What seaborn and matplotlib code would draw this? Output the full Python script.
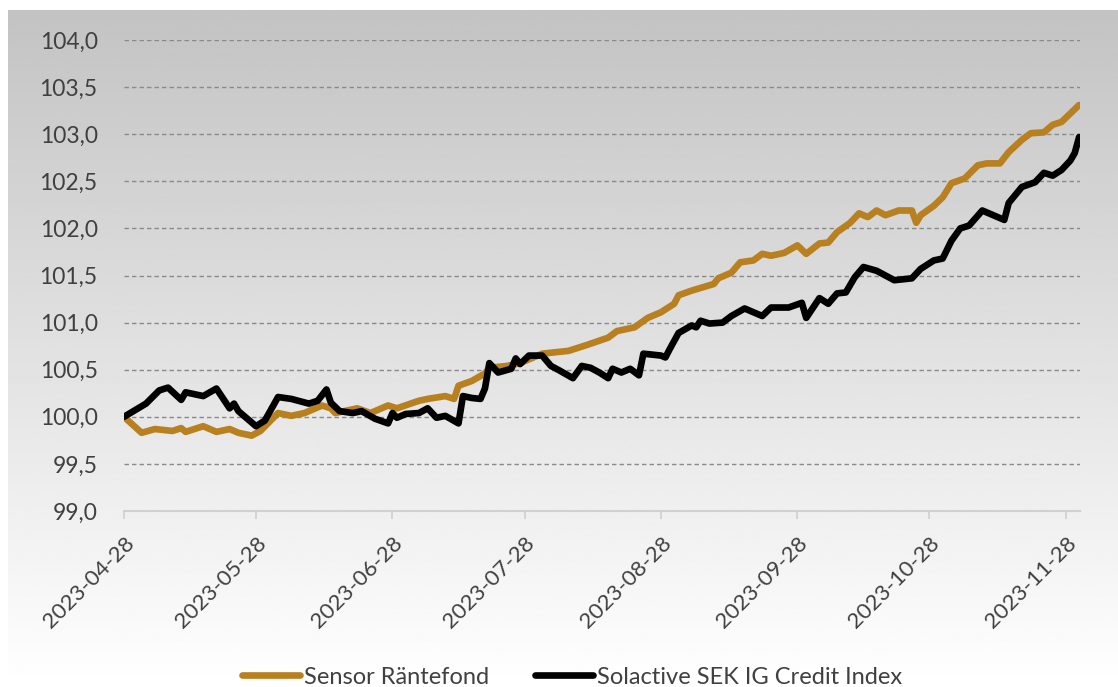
import numpy as np
import pandas as pd
import matplotlib
matplotlib.use("Agg")
import matplotlib.pyplot as plt
from matplotlib.lines import Line2D
import seaborn as sns

# Fund performance, indexed to 100 on 2023-04-28
sensor_dates = [
    "2023-04-28", "2023-05-02", "2023-05-05", "2023-05-09", "2023-05-11", "2023-05-12",
    "2023-05-16", "2023-05-19", "2023-05-22", "2023-05-24", "2023-05-27", "2023-05-29",
    "2023-06-02", "2023-06-05", "2023-06-08", "2023-06-12", "2023-06-14", "2023-06-15",
    "2023-06-20", "2023-06-23", "2023-06-27", "2023-06-29", "2023-07-04", "2023-07-06",
    "2023-07-10", "2023-07-12", "2023-07-13", "2023-07-16", "2023-07-19", "2023-07-20",
    "2023-07-24", "2023-07-27", "2023-07-30", "2023-08-01", "2023-08-07", "2023-08-11",
    "2023-08-16", "2023-08-18", "2023-08-22", "2023-08-25", "2023-08-28", "2023-08-31",
    "2023-09-01", "2023-09-04", "2023-09-09", "2023-09-10", "2023-09-13", "2023-09-15",
    "2023-09-18", "2023-09-20", "2023-09-22", "2023-09-25", "2023-09-28", "2023-09-30",
    "2023-10-03", "2023-10-05", "2023-10-07", "2023-10-10", "2023-10-12", "2023-10-14",
    "2023-10-16", "2023-10-18", "2023-10-21", "2023-10-24", "2023-10-25", "2023-10-26",
    "2023-10-29", "2023-10-31", "2023-11-02", "2023-11-05", "2023-11-08", "2023-11-10",
    "2023-11-13", "2023-11-15", "2023-11-18", "2023-11-20", "2023-11-23", "2023-11-25",
    "2023-11-27", "2023-11-29", "2023-12-01",
]
sensor_values = [
    100.00, 99.83, 99.87, 99.85, 99.88, 99.84,
    99.90, 99.84, 99.87, 99.83, 99.80, 99.85,
    100.04, 100.01, 100.04, 100.12, 100.09, 100.04,
    100.09, 100.04, 100.12, 100.09, 100.17, 100.19,
    100.22, 100.19, 100.33, 100.38, 100.46, 100.52,
    100.54, 100.57, 100.63, 100.67, 100.70, 100.76,
    100.84, 100.91, 100.95, 101.05, 101.11, 101.20,
    101.29, 101.34, 101.41, 101.47, 101.53, 101.64,
    101.66, 101.73, 101.71, 101.74, 101.82, 101.73,
    101.84, 101.85, 101.96, 102.06, 102.16, 102.12,
    102.19, 102.14, 102.19, 102.19, 102.06, 102.14,
    102.24, 102.33, 102.48, 102.53, 102.67, 102.69,
    102.69, 102.81, 102.94, 103.01, 103.02, 103.10,
    103.13, 103.22, 103.31,
]

index_dates = [
    "2023-04-28", "2023-05-03", "2023-05-06", "2023-05-08", "2023-05-11", "2023-05-12",
    "2023-05-16", "2023-05-19", "2023-05-22", "2023-05-23", "2023-05-24", "2023-05-27",
    "2023-05-28", "2023-05-30", "2023-06-02", "2023-06-05", "2023-06-09", "2023-06-11",
    "2023-06-13", "2023-06-14", "2023-06-16", "2023-06-19", "2023-06-21", "2023-06-24",
    "2023-06-27", "2023-06-28", "2023-06-29", "2023-07-01", "2023-07-04", "2023-07-06",
    "2023-07-08", "2023-07-10", "2023-07-13", "2023-07-14", "2023-07-16", "2023-07-18",
    "2023-07-19", "2023-07-20", "2023-07-22", "2023-07-25", "2023-07-26", "2023-07-27",
    "2023-07-29", "2023-08-01", "2023-08-03", "2023-08-05", "2023-08-08", "2023-08-10",
    "2023-08-12", "2023-08-14", "2023-08-16", "2023-08-17", "2023-08-19", "2023-08-21",
    "2023-08-23", "2023-08-24", "2023-08-28", "2023-08-29", "2023-08-30", "2023-09-01",
    "2023-09-04", "2023-09-05", "2023-09-06", "2023-09-08", "2023-09-11", "2023-09-13",
    "2023-09-16", "2023-09-18", "2023-09-20", "2023-09-22", "2023-09-26", "2023-09-29",
    "2023-09-30", "2023-10-03", "2023-10-05", "2023-10-07", "2023-10-09", "2023-10-11",
    "2023-10-13", "2023-10-16", "2023-10-20", "2023-10-24", "2023-10-26", "2023-10-29",
    "2023-10-31", "2023-11-02", "2023-11-04", "2023-11-06", "2023-11-09", "2023-11-10",
    "2023-11-14", "2023-11-15", "2023-11-18", "2023-11-21", "2023-11-23", "2023-11-25",
    "2023-11-27", "2023-11-29", "2023-11-30", "2023-12-01",
]
index_values = [
    100.00, 100.14, 100.28, 100.31, 100.18, 100.26,
    100.22, 100.30, 100.09, 100.14, 100.06, 99.94,
    99.90, 99.96, 100.21, 100.19, 100.14, 100.17,
    100.29, 100.15, 100.06, 100.04, 100.06, 99.98,
    99.93, 100.04, 99.99, 100.03, 100.04, 100.09,
    99.99, 100.01, 99.93, 100.22, 100.20, 100.19,
    100.30, 100.57, 100.47, 100.51, 100.62, 100.56,
    100.65, 100.65, 100.54, 100.49, 100.41, 100.54,
    100.52, 100.47, 100.41, 100.51, 100.47, 100.51,
    100.44, 100.67, 100.65, 100.63, 100.72, 100.89,
    100.97, 100.95, 101.02, 100.99, 101.00, 101.07,
    101.15, 101.11, 101.07, 101.16, 101.16, 101.21,
    101.05, 101.26, 101.20, 101.31, 101.32, 101.48,
    101.59, 101.55, 101.45, 101.47, 101.57, 101.66,
    101.68, 101.87, 102.00, 102.03, 102.19, 102.17,
    102.09, 102.27, 102.44, 102.49, 102.59, 102.56,
    102.62, 102.72, 102.80, 102.97,
]

series_names = ["Sensor Räntefond", "Solactive SEK IG Credit Index"]
series_colors = ["#B8801F", "#000000"]
tick_dates = ["2023-04-28", "2023-05-28", "2023-06-28", "2023-07-28",
              "2023-08-28", "2023-09-28", "2023-10-28", "2023-11-28"]
y_ticks = [99.0, 99.5, 100.0, 100.5, 101.0, 101.5, 102.0, 102.5, 103.0, 103.5, 104.0]

df = pd.concat([
    pd.DataFrame({"date": pd.to_datetime(sensor_dates), "value": sensor_values,
                  "series": series_names[0]}),
    pd.DataFrame({"date": pd.to_datetime(index_dates), "value": index_values,
                  "series": series_names[1]}),
], ignore_index=True)

sns.set_theme(style="white")
plt.rcParams["font.family"] = ["Lato", "DejaVu Sans"]

W, H = 1118, 687
fig = plt.figure(figsize=(W / 100, H / 100), dpi=100)
fig.patch.set_facecolor("white")

# grey-to-white gradient panel behind the chart
bg = fig.add_axes([8 / W, 0, 1 - 8 / W, (H - 10) / H], zorder=0)
grad = np.linspace(0.765, 1.0, 256).reshape(-1, 1)
bg.imshow(grad, aspect="auto", cmap="gray", vmin=0, vmax=1,
          origin="upper", extent=[0, 1, 0, 1], interpolation="bilinear")
bg.axis("off")

ax = fig.add_axes([124 / W, (H - 511) / H, (1080 - 124) / W, (511 - 40) / H], zorder=1)
ax.patch.set_alpha(0)

for yv in y_ticks[1:]:
    ax.axhline(yv, color="#8a8a8a", linewidth=1.0, linestyle=(0, (3.2, 2.2)), zorder=1)

sns.lineplot(data=df, x="date", y="value", hue="series", hue_order=series_names,
             palette=series_colors, linewidth=4.8, legend=False, sort=True,
             estimator=None, ax=ax, zorder=3)
for line in ax.get_lines()[-2:]:
    line.set_solid_joinstyle("round")
    line.set_solid_capstyle("round")

start = pd.Timestamp("2023-04-28")
ax.set_xlim(start, start + pd.Timedelta(days=217.2))
ax.set_ylim(99.0, 104.0)

ax.set_yticks(y_ticks)
ax.set_yticklabels([f"{v:.1f}".replace(".", ",") for v in y_ticks])
xt = pd.to_datetime(tick_dates)
ax.set_xticks(xt)
ax.set_xticklabels(tick_dates, rotation=45, ha="right", va="top", rotation_mode="anchor")

ax.tick_params(axis="y", length=0, pad=19, labelsize=16.5, labelcolor="#404040")
ax.tick_params(axis="x", length=6, width=1.2, color="#d0d0d0", direction="out",
               pad=10, labelsize=16, labelcolor="#404040")
ax.xaxis.set_ticks_position("bottom")

for side in ["top", "right", "left"]:
    ax.spines[side].set_visible(False)
ax.spines["bottom"].set_color("#d0d0d0")
ax.spines["bottom"].set_linewidth(1.5)
ax.set_xlabel("")
ax.set_ylabel("")

handles = [Line2D([0], [0], color=c, linewidth=4.8, solid_capstyle="round") for c in series_colors]
fig.legend(handles, series_names, loc="center", bbox_to_anchor=(572 / W, 10 / H),
           ncol=2, frameon=False, fontsize=17, handlelength=2.45, handletextpad=0.17,
           columnspacing=1.95, labelcolor="#404040")

fig.savefig("out.png", dpi=100)
